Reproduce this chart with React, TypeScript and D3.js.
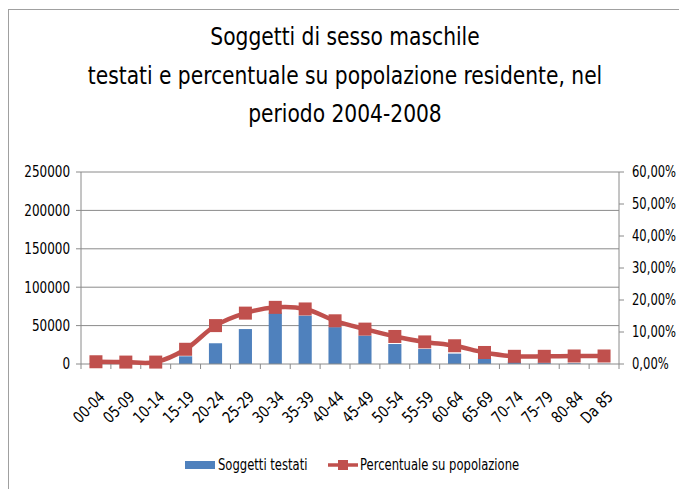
import React from "react";
import * as d3 from "d3";

// fasce d'età
const categories = [
  "00-04", "05-09", "10-14", "15-19", "20-24", "25-29", "30-34", "35-39", "40-44",
  "45-49", "50-54", "55-59", "60-64", "65-69", "70-74", "75-79", "80-84", "Da 85",
];
// soggetti testati (asse sinistro)
const testati = [
  800, 500, 700, 10000, 27000, 45500, 67000, 63000, 48000,
  37000, 26000, 19500, 13500, 8000, 3000, 1800, 1000, 400,
];
// percentuale su popolazione (asse destro, %)
const percentuale = [
  0.7, 0.6, 0.6, 4.6, 12.0, 15.9, 17.7, 17.2, 13.5,
  10.9, 8.6, 6.9, 5.7, 3.6, 2.4, 2.4, 2.5, 2.5,
];
const leftTicks = [0, 50000, 100000, 150000, 200000, 250000];
const rightTicks = [0, 10, 20, 30, 40, 50, 60];
const titleLines = [
  "Soggetti di sesso maschile",
  "testati e percentuale su popolazione residente, nel",
  "periodo 2004-2008",
];

const W = 679;
const H = 489;
const FONT = "'Liberation Sans Narrow', 'DejaVu Sans Condensed', sans-serif";
const BLUE = "#4f81bd";
const RED = "#c0504d";
const GRID = "#8a8a8a";

// testo compresso in orizzontale (il font originale è più stretto)
const T = ({ x, y, k, size, anchor = "start", rotate = 0, dy = "0", children }: any) => (
  <text
    transform={`translate(${x},${y}) rotate(${rotate}) scale(${k},1)`}
    textAnchor={anchor}
    dy={dy}
    fontSize={size}
    fill="#000"
  >
    {children}
  </text>
);

export default function App() {
  const left = 81, right = 619, top = 172, bottom = 364;

  const x = d3.scaleBand().domain(categories).range([left, right]);
  const yL = d3.scaleLinear().domain([0, 250000]).range([bottom, top]);
  const yR = d3.scaleLinear().domain([0, 60]).range([bottom, top]);
  const barW = x.bandwidth() * 0.44;
  const cx = (c: string) => (x(c) as number) + x.bandwidth() / 2;

  const line = d3
    .line<number>()
    .x((_, i) => cx(categories[i]))
    .y((d) => yR(d))
    .curve(d3.curveCatmullRom.alpha(0.5));

  const boundaries = d3.range(categories.length + 1).map((i) => left + i * x.step());

  return (
    <svg width={W} height={H} style={{ position: "absolute", left: 0, top: 0 }} fontFamily={FONT}>
      <rect x={0} y={0} width={W} height={H} fill="#fff" />
      <rect x={8.5} y={9.5} width={W + 10} height={H + 10} fill="none" stroke="#a0a0a0" />

      {titleLines.map((t, i) => (
        <T key={i} x={345} y={45 + i * 38.5} k={0.9} size={25} anchor="middle">
          {t}
        </T>
      ))}

      {/* griglia */}
      {leftTicks.slice(1).map((t) => (
        <line key={t} x1={left} x2={right} y1={yL(t)} y2={yL(t)} stroke={GRID} strokeWidth={1} />
      ))}

      {/* barre */}
      {testati.map((v, i) => (
        <rect
          key={i}
          x={cx(categories[i]) - barW / 2}
          y={yL(v)}
          width={barW}
          height={bottom - yL(v)}
          fill={BLUE}
        />
      ))}

      {/* assi */}
      <line x1={left} x2={left} y1={top} y2={bottom} stroke={GRID} />
      <line x1={right} x2={right} y1={top} y2={bottom} stroke={GRID} />
      <line x1={left} x2={right} y1={bottom} y2={bottom} stroke={GRID} />
      {leftTicks.map((t) => (
        <g key={t}>
          <line x1={left - 5} x2={left} y1={yL(t)} y2={yL(t)} stroke={GRID} />
          <T x={70} y={yL(t)} k={0.86} size={15.5} anchor="end" dy="0.35em">
            {t}
          </T>
        </g>
      ))}
      {rightTicks.map((t) => (
        <g key={t}>
          <line x1={right} x2={right + 5} y1={yR(t)} y2={yR(t)} stroke={GRID} />
          <T x={632} y={yR(t)} k={0.83} size={15.5} dy="0.35em">
            {t.toFixed(2).replace(".", ",")}%
          </T>
        </g>
      ))}
      {boundaries.map((b, i) => (
        <line key={i} x1={b} x2={b} y1={bottom} y2={bottom + 5} stroke={GRID} />
      ))}
      {categories.map((c) => (
        <T key={c} x={cx(c) + 2} y={bottom + 26} k={0.88} size={16} anchor="end" rotate={-45} dy="0.7em">
          {c}
        </T>
      ))}

      {/* linea percentuale */}
      <path d={line(percentuale) ?? ""} fill="none" stroke={RED} strokeWidth={4.5} strokeLinejoin="round" />
      {percentuale.map((v, i) => (
        <rect key={i} x={cx(categories[i]) - 6.5} y={yR(v) - 6.5} width={13} height={13} fill={RED} />
      ))}

      {/* legenda */}
      <rect x={185} y={461} width={30} height={8} fill={BLUE} />
      <T x={218} y={465} k={0.86} size={15} dy="0.35em">Soggetti testati</T>
      <line x1={328} x2={358} y1={465} y2={465} stroke={RED} strokeWidth={3.5} />
      <rect x={338} y={460} width={10} height={10} fill={RED} />
      <T x={360} y={465} k={0.86} size={15} dy="0.35em">Percentuale su popolazione</T>
    </svg>
  );
}
